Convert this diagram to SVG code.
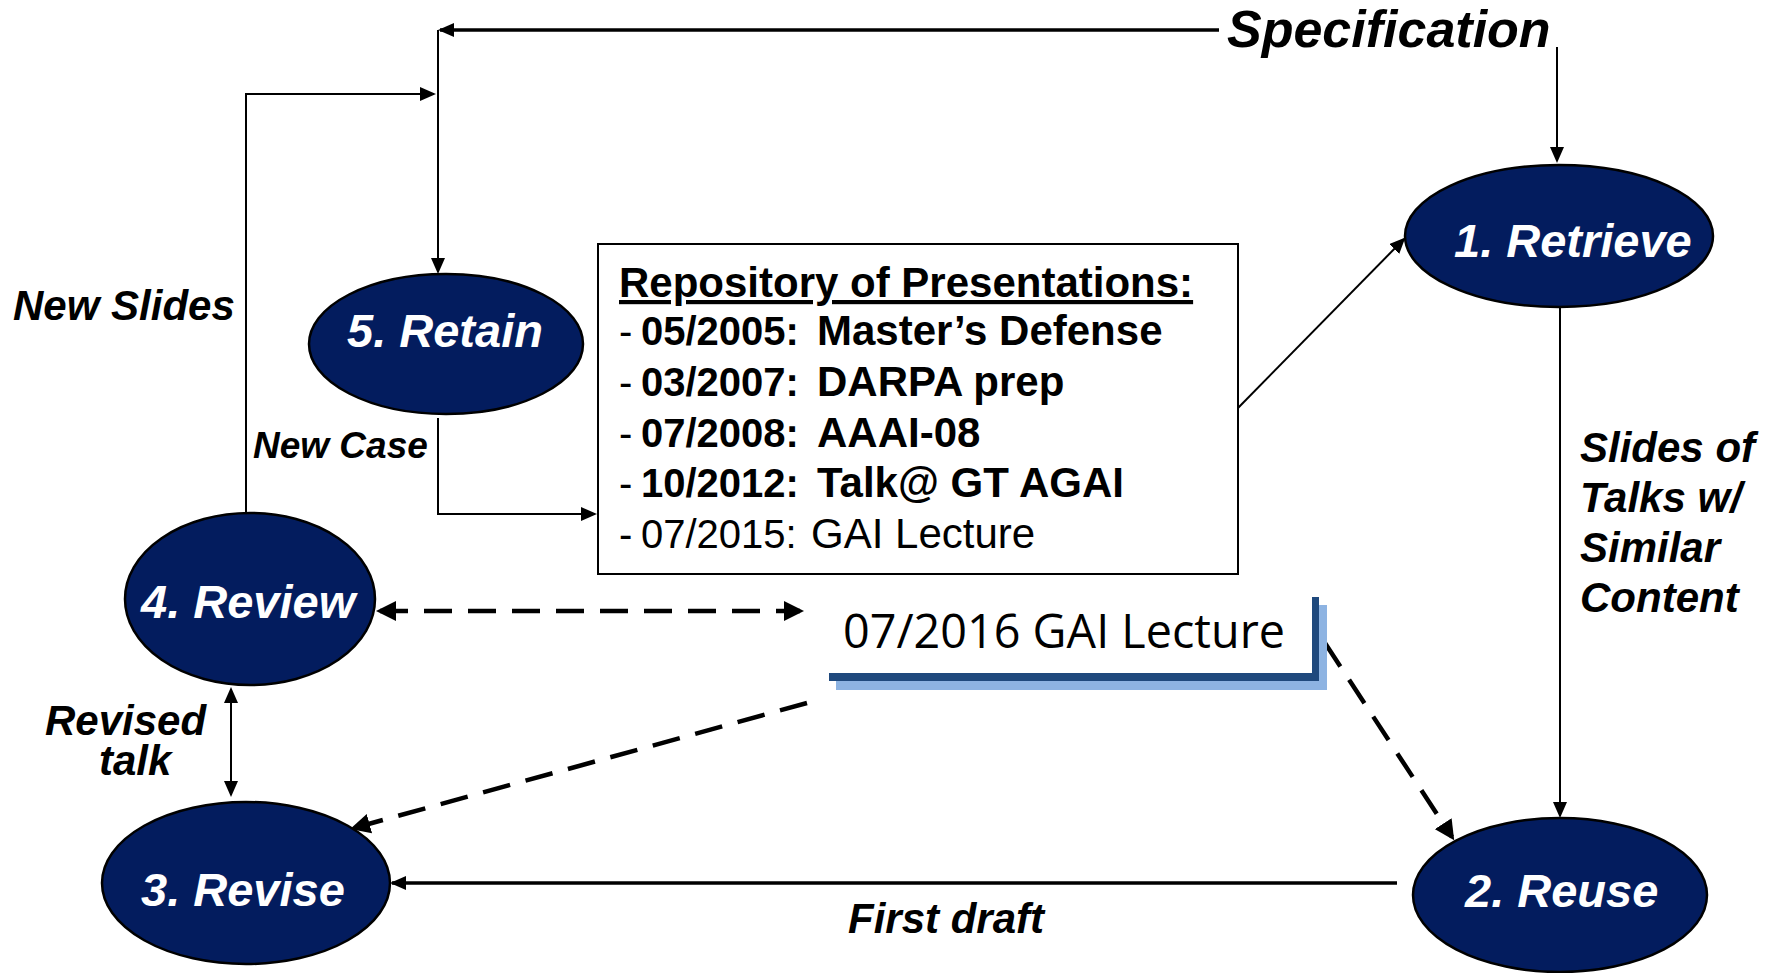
<svg xmlns="http://www.w3.org/2000/svg" width="1781" height="973" viewBox="0 0 1781 973">
  <style>
    .node { fill: #031c5e; stroke: #000; stroke-width: 2.5; }
    .nlabel { font-family: "Liberation Sans", Arial, sans-serif; font-weight: bold; font-style: italic; font-size: 47px; fill: #fff; }
    .lbl { font-family: "Liberation Sans", Arial, sans-serif; font-weight: bold; font-style: italic; font-size: 42px; fill: #000; }
    .lbl.spec { font-size: 52px; }
    .lbl.case { font-size: 37px; }
    .thin { fill: none; stroke: #000; stroke-width: 2; }
    .thick { fill: none; stroke: #000; stroke-width: 3.5; }
    .dash { fill: none; stroke: #000; stroke-width: 4.5; stroke-dasharray: 28 16; }
    .repo { font-family: "Liberation Sans", Arial, sans-serif; fill: #000; }
  </style>
  <defs>
    <marker id="arr" markerUnits="userSpaceOnUse" markerWidth="16" markerHeight="14" refX="14" refY="7" orient="auto-start-reverse" viewBox="0 0 16 14">
      <path d="M0,0 L16,7 L0,14 z" fill="#000"/>
    </marker>
    <marker id="arrD" markerUnits="userSpaceOnUse" markerWidth="20" markerHeight="20" refX="16" refY="10" orient="auto-start-reverse" viewBox="0 0 20 20">
      <path d="M0,0 L20,10 L0,20 z" fill="#000"/>
    </marker>
  </defs>

  <rect x="0" y="0" width="1781" height="973" fill="#fff"/>

  <!-- connectors -->
  <g id="connectors">
    <!-- Specification feed to the top loop and to Retrieve -->
    <path class="thick" d="M1219,30 L440,30" marker-end="url(#arr)"/>
    <path class="thin" d="M1557,47 L1557,161" marker-end="url(#arr)"/>
    <path class="thin" d="M438,30 L438,272" marker-end="url(#arr)"/>
    <!-- New Slides: Review up and over into the loop -->
    <path class="thin" d="M246,525 L246,94 L434,94" marker-end="url(#arr)"/>
    <!-- New Case: Retain down into the repository -->
    <path class="thin" d="M438,418 L438,514 L595,514" marker-end="url(#arr)"/>
    <!-- Repository to Retrieve -->
    <path class="thin" d="M1238,408 L1404,239" marker-end="url(#arr)"/>
    <!-- Retrieve to Reuse -->
    <path class="thin" d="M1560,307 L1560,816" marker-end="url(#arr)"/>
    <!-- First draft: Reuse to Revise -->
    <path class="thick" d="M1397,883 L392,883" marker-end="url(#arr)"/>
    <!-- Revised talk: Review / Revise -->
    <path class="thin" d="M231,689 L231,795" marker-start="url(#arr)" marker-end="url(#arr)"/>
    <!-- dashed links to the new lecture -->
    <path class="dash" d="M380,611 L800,611" marker-start="url(#arrD)" marker-end="url(#arrD)"/>
    <path class="dash" d="M807,703 L354,828" marker-end="url(#arrD)"/>
    <path class="dash" d="M1325,643 L1452,837" marker-end="url(#arrD)"/>
  </g>

  <!-- repository box -->
  <g id="repository">
    <rect x="598" y="244" width="640" height="330" fill="#fff" stroke="#000" stroke-width="2"/>
    <text class="repo" x="619" y="297" font-weight="bold" font-size="42" text-decoration="underline">Repository of Presentations:</text>
    <text class="repo" y="345"><tspan x="619" font-size="40">-</tspan><tspan x="641" font-weight="bold" font-size="40">05/2005:</tspan><tspan x="817" font-weight="bold" font-size="42">Master’s Defense</tspan></text>
    <text class="repo" y="396"><tspan x="619" font-size="40">-</tspan><tspan x="641" font-weight="bold" font-size="40">03/2007:</tspan><tspan x="817" font-weight="bold" font-size="42">DARPA prep</tspan></text>
    <text class="repo" y="447"><tspan x="619" font-size="40">-</tspan><tspan x="641" font-weight="bold" font-size="40">07/2008:</tspan><tspan x="817" font-weight="bold" font-size="42">AAAI-08</tspan></text>
    <text class="repo" y="497"><tspan x="619" font-size="40">-</tspan><tspan x="641" font-weight="bold" font-size="40">10/2012:</tspan><tspan x="817" font-weight="bold" font-size="42">Talk@ GT AGAI</tspan></text>
    <text class="repo" y="548"><tspan x="619" font-size="40">-</tspan><tspan x="641" font-size="40">07/2015:</tspan><tspan x="811" font-size="42">GAI Lecture</tspan></text>
  </g>

  <!-- new lecture card with layered shadow -->
  <g id="new-lecture">
    <rect x="836" y="605" width="491" height="85" fill="#8db3e2"/>
    <rect x="829" y="597" width="490" height="84" fill="#1f497d"/>
    <rect x="822" y="590" width="490" height="83" fill="#fff"/>
    <text x="843" y="648" font-family="'Open Sans', 'Liberation Sans', sans-serif" font-size="47" textLength="442" lengthAdjust="spacingAndGlyphs" fill="#000">07/2016 GAI Lecture</text>
  </g>

  <g id="retrieve">
    <ellipse class="node" cx="1559" cy="236" rx="154" ry="71"/>
    <text class="nlabel" x="1454" y="257">1. Retrieve</text>
  </g>
  <g id="reuse">
    <ellipse class="node" cx="1560" cy="895" rx="147" ry="77"/>
    <text class="nlabel" x="1465" y="907">2. Reuse</text>
  </g>
  <g id="revise">
    <ellipse class="node" cx="246" cy="883" rx="144" ry="81"/>
    <text class="nlabel" x="141" y="906">3. Revise</text>
  </g>
  <g id="review">
    <ellipse class="node" cx="250" cy="599" rx="125" ry="86"/>
    <text class="nlabel" x="141" y="618">4. Review</text>
  </g>
  <g id="retain">
    <ellipse class="node" cx="446" cy="344" rx="137" ry="70"/>
    <text class="nlabel" x="347" y="347">5. Retain</text>
  </g>

  <!-- edge labels -->
  <g id="labels">
    <text class="lbl spec" x="1227" y="47">Specification</text>
    <text class="lbl" x="13" y="320">New Slides</text>
    <text class="lbl case" x="253" y="458">New Case</text>
    <text class="lbl" x="1580" y="462">Slides of</text>
    <text class="lbl" x="1580" y="512">Talks w/</text>
    <text class="lbl" x="1580" y="562">Similar</text>
    <text class="lbl" x="1580" y="612">Content</text>
    <text class="lbl" x="45" y="735">Revised</text>
    <text class="lbl" x="99" y="775">talk</text>
    <text class="lbl" x="848" y="933">First draft</text>
  </g>
</svg>
